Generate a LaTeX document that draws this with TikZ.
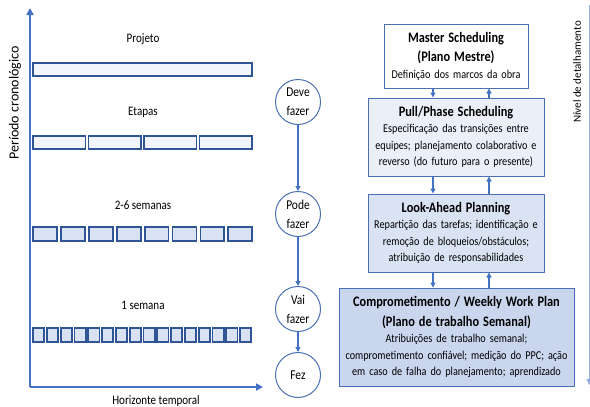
\documentclass[tikz,border=0pt]{standalone}
\usepackage{fontspec}
\setmainfont{Carlito}[FakeStretch=0.85]
\newfontfamily\plainfont{Carlito}
\usetikzlibrary{arrows.meta}

\definecolor{axisblue}{HTML}{4472C4}
\definecolor{bardraw}{HTML}{2F5597}
\definecolor{barlight}{HTML}{F2F5FB}
\definecolor{barmid}{HTML}{D9E2F3}
\definecolor{boxdraw}{HTML}{4A6FB5}
\definecolor{boxfillb}{HTML}{EAEFF8}
\definecolor{boxfillc}{HTML}{DAE3F3}
\definecolor{boxfilld}{HTML}{C9D6EE}

\newcommand{\boxttl}{\fontsize{14.5}{19.5}\selectfont\bfseries}
\newcommand{\boxtxt}{\fontsize{12}{16.5}\selectfont}

\tikzset{
	axis/.style={draw=axisblue, line width=2pt, -{Triangle[width=7pt,length=7pt]}},
	flow/.style={draw=axisblue, line width=1.2pt, -{Triangle[width=5pt,length=5pt]}},
	bar/.style={draw=bardraw, line width=1.8pt, minimum height=13.5pt, inner sep=0pt},
	lbl/.style={font=\fontsize{13}{16}\selectfont},
	stage/.style={circle, draw=boxdraw, line width=1pt, minimum size=45pt, inner sep=0pt, align=center, font=\fontsize{13.5}{19}\selectfont},
	plan/.style={draw=boxdraw, line width=1pt, align=center, inner sep=3pt, font=\boxtxt}
}

\begin{document}
\begin{tikzpicture}[x=1pt, y=-1pt]
		\useasboundingbox (0,0) rectangle (590,407);

		% Eixos
		\coordinate (O) at (30,387);
		\coordinate (ytop) at (30,8);
		\coordinate (xend) at (263,387);
		\draw[axis] (O) -- (ytop);
		\draw[axis] (O) -- (xend);
		\node[rotate=90, font=\plainfont\fontsize{14}{16}\selectfont] (ylab) at (15,103) {Período cronológico};
		\node[lbl] (xlab) at (156,401) {Horizonte temporal};

		% Barras
		\node[lbl] (tpr) at (143,39) {Projeto};
		\node[bar, fill=barlight, minimum width=219pt] (pr) at (142.5,69.5) {};
		\node[lbl] (tet) at (143,112) {Etapas};
		\foreach \i in {0,...,3}
			\node[bar, fill=barlight, minimum width=52.5pt] (et\i) at (59.25+\i*55.5,142.5) {};
		\node[lbl] (tsm) at (143,205) {2-6 semanas};
		\foreach \i in {0,...,7}
			\node[bar, fill=barmid, minimum width=23.9pt] (sm\i) at (44.95+\i*27.9,234) {};
		\node[lbl] (tsn) at (143,305) {1 semana};
		\foreach \i in {0,...,15}
			\node[bar, fill=barmid, minimum width=11.3pt] (sn\i) at (38.65+\i*13.8,335) {};

		% Círculos
		\node[stage] (deve) at (298,102) {Deve\\fazer};
		\node[stage] (pode) at (298,214) {Pode\\fazer};
		\node[stage] (vai) at (298,309) {Vai\\fazer};
		\node[stage] (fez) at (298,375) {Fez};
		\draw[flow] (deve) -- (pode);
		\draw[flow] (pode) -- (vai);
		\draw[flow] (vai) -- (fez);

		% Blocos
		\node[plan, fill=white, text width=138pt, minimum height=64pt] (ms) at (456,56)
		{{\boxttl Master Scheduling\\(Plano Mestre)\par}Definição dos marcos da obra};
		\node[plan, fill=boxfillb, text width=170pt, minimum height=78pt] (ps) at (456,137)
		{{\boxttl Pull/Phase Scheduling\par}Especificação das transições entre\\equipes; planejamento colaborativo e\\reverso (do futuro para o presente)};
		\node[plan, fill=boxfillc, text width=170pt, minimum height=78pt] (la) at (456,233)
		{{\boxttl Look-Ahead Planning\par}Repartição das tarefas; identificação e\\remoção de bloqueios/obstáculos;\\atribuição de responsabilidades};
		\node[plan, fill=boxfilld, text width=229pt, minimum height=98pt] (ww) at (456.5,337)
		{{\boxttl Comprometimento / Weekly Work Plan\\(Plano de trabalho Semanal)\par}Atribuições de trabalho semanal;\\comprometimento confiável; medição do PPC; ação\\em caso de falha do planejamento; aprendizado};

		% Setas
		\coordinate (dn) at (433,0);
		\coordinate (up) at (489,0);
		\draw[flow] (ms.south -| dn) -- (ps.north -| dn);
		\draw[flow] (ps.north -| up) -- (ms.south -| up);
		\draw[flow] (ps.south -| dn) -- (la.north -| dn);
		\draw[flow] (la.north -| up) -- (ps.south -| up);
		\draw[flow] (la.south -| dn) -- (ww.north -| dn);
		\draw[flow] (ww.north -| up) -- (la.south -| up);

		% Nível
		\node[rotate=90, font=\plainfont\fontsize{11}{13}\selectfont] (zlab) at (577,72) {Nível de detalhamento};
		\coordinate (rtop) at (589.5,5);
		\coordinate (rbot) at (589.5,385);
		\draw[draw=axisblue!60, line width=1pt, -{Triangle[width=6pt,length=6pt]}] (rtop) -- (rbot);

	\end{tikzpicture}
\end{document}
